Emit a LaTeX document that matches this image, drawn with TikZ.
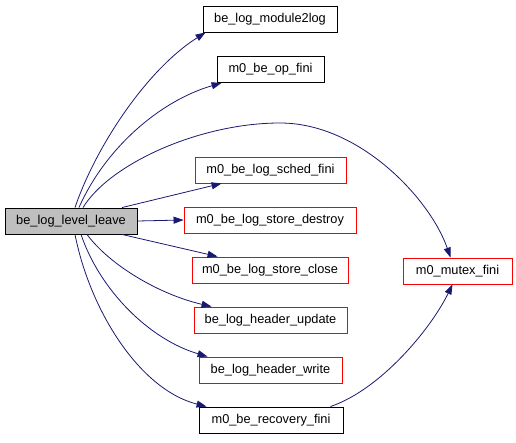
\documentclass[tikz,border=0pt]{standalone}
\usepackage{fontspec}
\setmainfont{Liberation Sans}
\usetikzlibrary{arrows.meta}
\definecolor{edgeblue}{HTML}{191970}
\definecolor{boxred}{HTML}{FF0000}
\definecolor{boxgray}{HTML}{BFBFBF}
\tikzset{
  fn/.style={draw=black, line width=0.9pt, fill=white, minimum height=26pt, inner sep=0pt, font=\fontsize{12.8}{14}\selectfont},
  fnred/.style={fn, draw=boxred},
  fnmain/.style={fn, fill=boxgray},
  call/.style={draw=edgeblue, line width=0.8pt, -{Triangle[length=10pt,width=7pt]}, color=edgeblue},
}
\begin{document}
\begin{tikzpicture}[x=1pt,y=-1pt]
\useasboundingbox (0,0) rectangle (516,443);
\node[fnmain, minimum width=132pt] (main) at (71,221) {be\_log\_level\_leave};
\node[fn, minimum width=134pt] (m2l) at (270,19) {be\_log\_module2log};
\node[fn, minimum width=107pt] (opfini) at (270.5,69.5) {m0\_be\_op\_fini};
\node[fnred, minimum width=151pt] (sched) at (270.5,170) {m0\_be\_log\_sched\_fini};
\node[fnred, minimum width=172pt] (destroy) at (270,220) {m0\_be\_log\_store\_destroy};
\node[fnred, minimum width=156pt] (close) at (270,270) {m0\_be\_log\_store\_close};
\node[fnred, minimum width=153pt] (update) at (270.5,320) {be\_log\_header\_update};
\node[fnred, minimum width=143pt] (write) at (270.5,370) {be\_log\_header\_write};
\node[fn, minimum width=144pt] (recov) at (271,420) {m0\_be\_recovery\_fini};
\node[fnred, minimum width=109pt] (mutex) at (457.5,271) {m0\_mutex\_fini};
\coordinate (mtop) at (280,123);

\draw[call] ([xshift=4]main.north) .. controls +(20,-59) and +(-60,38) .. ([xshift=3]m2l.south west);
\draw[call] ([xshift=8]main.north) .. controls +(26,-59) and +(-62,18) .. ([xshift=5]opfini.south west);
\draw[call] ([xshift=12]main.north) .. controls +(27,-44) and +(-80,0) .. (mtop)
  .. controls +(80,0) and +(-20,-58) .. ([xshift=-7]mutex.north);
\draw[call] ([xshift=51]main.north) -- ([xshift=27]sched.south west);
\draw[call] (main.east) -- (destroy.west);
\draw[call] ([xshift=51]main.south) -- ([xshift=26]close.north west);
\draw[call] ([xshift=16]main.south) .. controls +(23,31) and +(-52,-12) .. ([xshift=18]update.north west);
\draw[call] ([xshift=10]main.south) .. controls +(19,56) and +(-58,-17) .. ([xshift=9]write.north west);
\draw[call] ([xshift=4]main.south) .. controls +(15,76) and +(-67,-17) .. ([xshift=8]recov.north west);
\draw[call] ([xshift=-13]recov.north east) .. controls +(50,-17) and +(-22,45) .. ([xshift=-5]mutex.south);
\end{tikzpicture}
\end{document}
